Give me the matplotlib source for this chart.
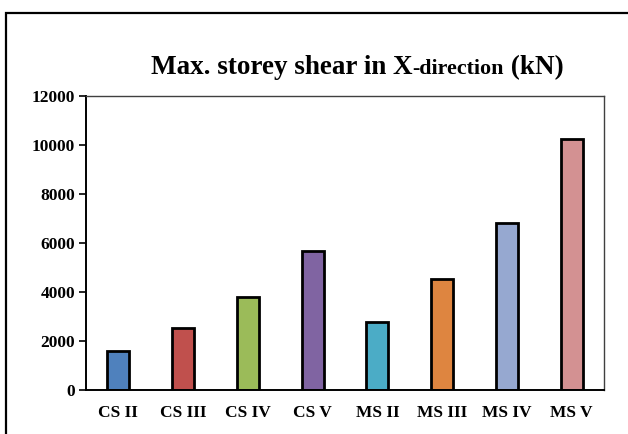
import matplotlib.pyplot as plt
from matplotlib.patches import Rectangle

# ==== Data ==== #
categories = ["CS II", "CS III", "CS IV", "CS V", "MS II", "MS III", "MS IV", "MS V"]
shear_kn = [1600, 2530, 3780, 5680, 2790, 4520, 6800, 10230]
bar_colors = ["#4F81BD", "#C0504D", "#9BBB59", "#8064A2",
              "#4BACC6", "#DE8540", "#96A8D0", "#D39192"]
y_ticks = [0, 2000, 4000, 6000, 8000, 10000, 12000]

# title pieces: "-direction" is set in a smaller size
title_parts = [("Max. storey shear in X", 19.5), ("-direction", 15.8), (" (kN)", 19.5)]

plt.rcParams["font.family"] = ["Liberation Serif", "DejaVu Serif"]

W, H = 628, 434
fig = plt.figure(figsize=(W / 100, H / 100), dpi=100)
ax = fig.add_axes([86 / W, 44 / H, 518 / W, 294 / H])

# outer chart frame (runs off the right and bottom edges)
fig.patches.append(Rectangle((6 / W, -0.1), 1.2, (H - 13) / H + 0.1,
                             transform=fig.transFigure, fill=False,
                             edgecolor="black", linewidth=1.6))

x = range(len(categories))
ax.bar(x, shear_kn, width=0.34, color=bar_colors,
       edgecolor="black", linewidth=2)

ax.set_xlim(-0.5, len(categories) - 0.5)
ax.set_ylim(0, 12000)
ax.set_yticks(y_ticks)
ax.set_yticklabels([str(v) for v in y_ticks], fontsize=12.5, fontweight="bold")
ax.set_xticks(list(x))
ax.set_xticklabels(categories, fontsize=12.5, fontweight="bold")
ax.tick_params(axis="x", length=0, pad=11)
ax.tick_params(axis="y", length=5, width=1.2, direction="out", pad=3)

for side in ("left", "bottom"):
    ax.spines[side].set_linewidth(1.4)
    ax.spines[side].set_color("black")
for side in ("top", "right"):
    ax.spines[side].set_linewidth(1.0)
    ax.spines[side].set_color("#404040")

# ==== Title, laid out piece by piece on a common baseline ==== #
renderer = fig.canvas.get_renderer()
texts = [fig.text(0, 1 - 74 / H, s, fontsize=fs, fontweight="bold",
                  ha="left", va="baseline") for s, fs in title_parts]
widths = [t.get_window_extent(renderer).width for t in texts]
x0 = 357 - sum(widths) / 2
for t, w in zip(texts, widths):
    t.set_x(x0 / W)
    x0 += w

fig.savefig("out.png", dpi=100)
